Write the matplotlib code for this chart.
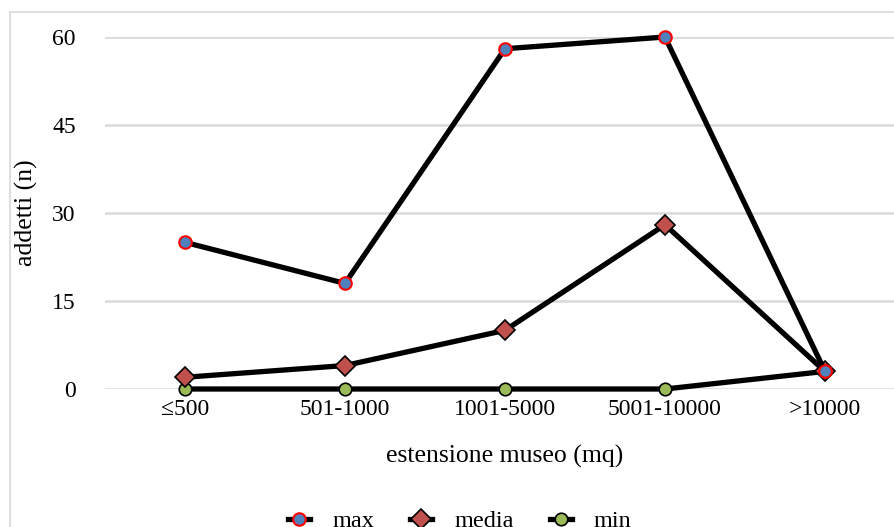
import matplotlib
matplotlib.use("Agg")
import matplotlib.pyplot as plt
from matplotlib.patches import Rectangle

# ---------------------------------------------------------------------------
# Data
# ---------------------------------------------------------------------------

CATEGORIES = ["\u2264500", "501-1000", "1001-5000", "5001-10000", ">10000"]
MAX_VALS   = [25, 18, 58, 60, 3]
MEDIA_VALS = [2, 4, 10, 28, 3]
MIN_VALS   = [0, 0, 0, 0, 3]
Y_TICKS    = [0, 15, 30, 45, 60]

W, H = 895, 527

plt.rcParams["font.family"] = ["Liberation Serif", "DejaVu Serif"]

fig = plt.figure(figsize=(W / 100, H / 100), dpi=100)

# chart border (Excel-like frame, cropped on the right/bottom)
fig.patches.append(Rectangle((10 / W, -0.1), 1.2, (H - 12) / H + 0.1,
                             transform=fig.transFigure, fill=False,
                             edgecolor="#d9d9d9", linewidth=1.2))

ax = fig.add_axes([105 / W, (H - 389) / H, 800 / W, 352 / H])
x = list(range(len(CATEGORIES)))

ax.plot(x, MIN_VALS, color="black", linewidth=3.8, marker="o",
        markersize=9, markerfacecolor="#9bbb59", markeredgecolor="black",
        markeredgewidth=1.2, label="min", zorder=3, clip_on=False)
ax.plot(x, MEDIA_VALS, color="black", linewidth=3.8, marker="D",
        markersize=10.5, markerfacecolor="#c0504d", markeredgecolor="black",
        markeredgewidth=1.2, label="media", zorder=4, clip_on=False)
ax.plot(x, MAX_VALS, color="black", linewidth=3.8, marker="o",
        markersize=9, markerfacecolor="#4f81bd", markeredgecolor="red",
        markeredgewidth=1.5, label="max", zorder=5, clip_on=False)

ax.set_xlim(-0.5, len(CATEGORIES) - 0.5)
ax.set_ylim(0, 60)
ax.set_yticks(Y_TICKS)
ax.set_xticks(x)
ax.set_xticklabels(CATEGORIES)
ax.tick_params(axis="both", length=0, labelsize=17, colors="black")
ax.tick_params(axis="y", pad=21)
ax.tick_params(axis="x", pad=7)

ax.grid(axis="y", color="#d9d9d9", linewidth=1.8)
ax.set_axisbelow(True)
for side in ["top", "right", "left", "bottom"]:
    ax.spines[side].set_visible(False)

fig.text(505 / W, 1 - 456 / H, "estensione museo (mq)", fontsize=18.5,
         ha="center", va="center")
fig.text(26 / W, 1 - 213 / H, "addetti (n)", rotation=90, fontsize=18.5,
         ha="center", va="center")

handles, labels = ax.get_legend_handles_labels()
order = [2, 1, 0]
fig.legend([handles[i] for i in order], [labels[i] for i in order],
           loc="center", bbox_to_anchor=(460 / W, 1 - 521 / H), ncol=3,
           frameon=False, fontsize=17.5, handlelength=0.9,
           handletextpad=0.9, columnspacing=1.5)

fig.savefig("out.png", dpi=100)
